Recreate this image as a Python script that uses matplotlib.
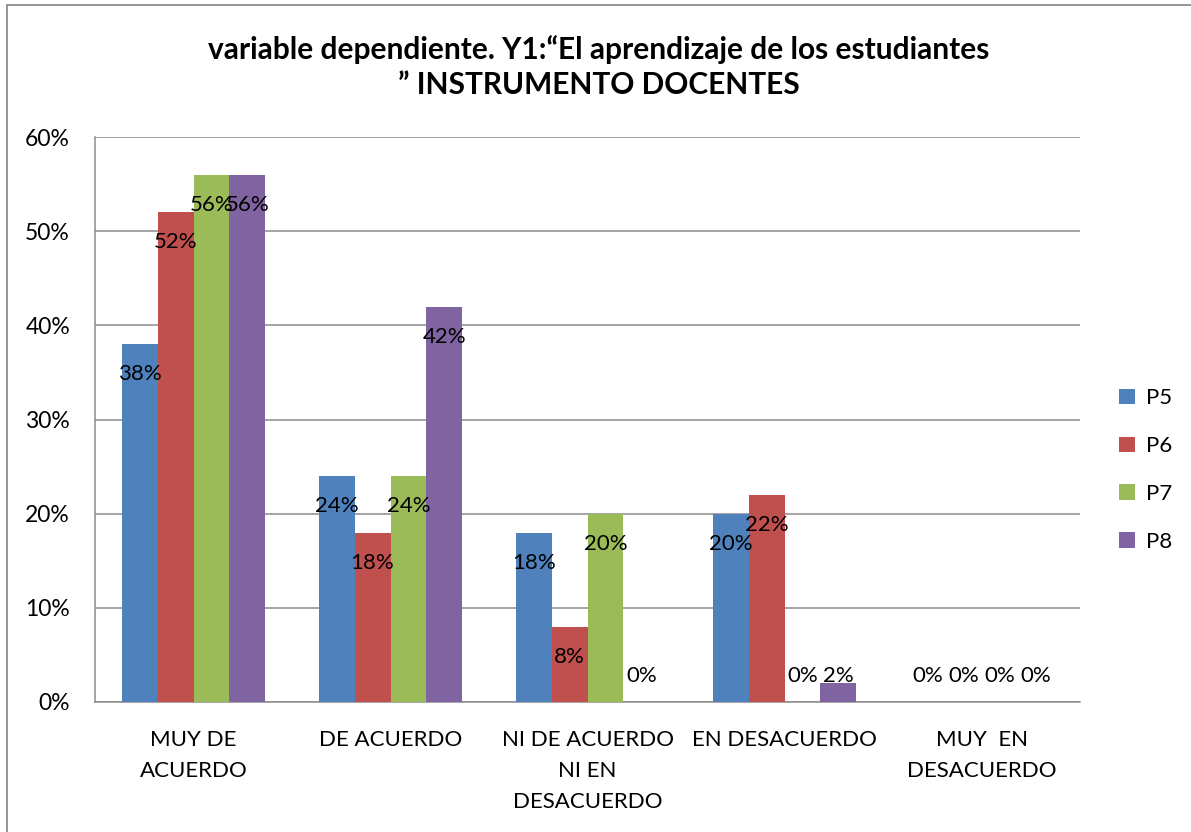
import matplotlib
matplotlib.use('Agg')
import matplotlib.pyplot as plt
from matplotlib.patches import Rectangle
import numpy as np

plt.rcParams['font.family'] = ['Lato', 'DejaVu Sans']

categories = ['MUY DE\nACUERDO', 'DE ACUERDO', 'NI DE ACUERDO\nNI EN\nDESACUERDO',
              'EN DESACUERDO', 'MUY  EN\nDESACUERDO']
series = ['P5', 'P6', 'P7', 'P8']
p5 = [38, 24, 18, 20, 0]
p6 = [52, 18, 8, 22, 0]
p7 = [56, 24, 20, 0, 0]
p8 = [56, 42, 0, 2, 0]
yticks = [0, 10, 20, 30, 40, 50, 60]

COLORS = ['#4F81BD', '#C0504D', '#9BBB59', '#8064A2']

fig = plt.figure(figsize=(11.91, 8.32), dpi=100)
ax = fig.add_axes([95/1191, 1 - 702/832, (1080 - 95)/1191, (702 - 137)/832])

# outer chart border (only top/left visible in the crop)
fig.patches.append(Rectangle((7/1191, -0.1), 1.2, 1 - 5/832 + 0.1,
                             transform=fig.transFigure, fill=False,
                             edgecolor='#8c8c8c', lw=1.3))

x = np.arange(len(categories))
w = 0.182
for i, (name, vals) in enumerate(zip(series, [p5, p6, p7, p8])):
    pos = x + (i - 1.5) * w
    ax.bar(pos, vals, width=w, color=COLORS[i], label=name, zorder=3)
    for px, v in zip(pos, vals):
        ax.text(px, max(v - 3.2, 2.8), f'{v}%', ha='center', va='center',
                fontsize=16, color='black', zorder=4)

ax.set_xlim(-0.5, 4.5)
ax.set_ylim(0, 60)
ax.set_yticks(yticks)
ax.set_yticklabels([f'{t}%' for t in yticks])
ax.set_xticks(x)
ax.set_xticklabels(categories, linespacing=1.7)
ax.tick_params(axis='y', length=0, pad=18, labelsize=16.5)
ax.tick_params(axis='x', length=0, pad=20, labelsize=16)
ax.grid(True, axis='y', color='#8c8c8c', lw=1.1, zorder=0)
for s in ['top', 'right']:
    ax.spines[s].set_visible(False)
for s in ['left', 'bottom']:
    ax.spines[s].set_color('#8c8c8c')
    ax.spines[s].set_linewidth(1.1)

fig.text(0.503, 1 - 67/832, 'variable dependiente. Y1:\u201cEl aprendizaje de los estudiantes\n\u201d INSTRUMENTO DOCENTES',
         ha='center', va='center', fontsize=21.5, fontweight='bold', linespacing=1.3)

fig.legend(loc='center left', bbox_to_anchor=(1099/1191, 1 - 470/832), frameon=False,
           fontsize=16, handlelength=0.7, handleheight=0.7, handletextpad=0.5,
           labelspacing=1.25)

plt.savefig('out.png', dpi=100)
